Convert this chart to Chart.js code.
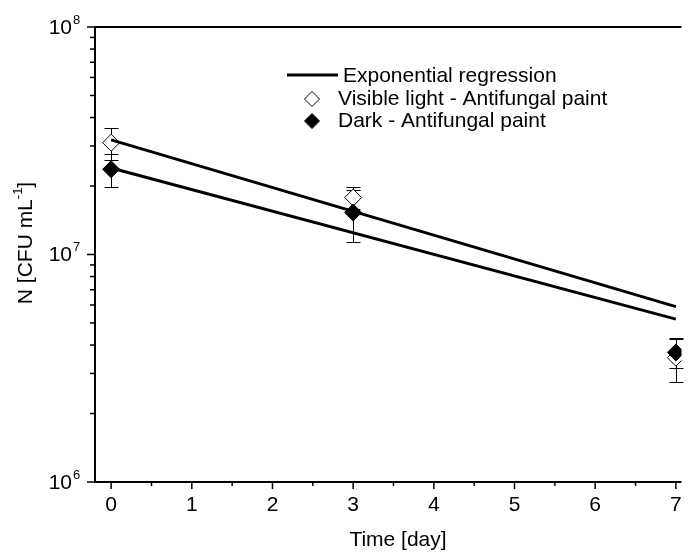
<!DOCTYPE html>
<html>
<head>
<meta charset="utf-8">
<script src="https://cdn.jsdelivr.net/npm/chart.js@4.4.1/dist/chart.umd.min.js"></script>
<style>
  html, body { margin: 0; padding: 0; background: #fff; }
  canvas { display: block; }
</style>
</head>
<body>
<canvas id="chart" width="691" height="552"></canvas>
<script>
// measured points (day, CFU/mL) with error
const days = [0, 3, 7];
const visible = [3.1e7, 1.78e7, 3.52e6];
const visibleErr = [0.5e7, 0.2e7, 0.76e6];
const dark = [2.37e7, 1.53e7, 3.71e6];
const darkErr = [0.39e7, 0.4e7, 0.55e6];

// exponential fits, ends of the lines
const fitDays = [0, 7];
const fitVisible = [3.19e7, 5.9e6];
const fitDark = [2.40e7, 5.2e6];

const xTickLabels = ["0", "1", "2", "3", "4", "5", "6", "7"];
const yDecades = [6, 7, 8];

const FONT = "'Liberation Sans', Arial, sans-serif";

const pts = (xs, ys) => xs.map((x, i) => ({ x, y: ys[i] }));

const errorBars = {
  id: "errorBars",
  beforeDatasetsDraw(chart) {
    const { ctx, scales: { x, y } } = chart;
    ctx.save();
    ctx.strokeStyle = "#000";
    ctx.lineWidth = 1;
    const series = [[visible, visibleErr], [dark, darkErr]];
    series.forEach(([vals, errs]) => {
      days.forEach((d, i) => {
        const px = Math.round(x.getPixelForValue(d)) + 0.5;
        const top = Math.round(y.getPixelForValue(vals[i] + errs[i])) + 0.5;
        const bot = Math.round(y.getPixelForValue(vals[i] - errs[i])) + 0.5;
        ctx.beginPath();
        ctx.moveTo(px, top); ctx.lineTo(px, bot);
        ctx.moveTo(px - 7, top); ctx.lineTo(px + 7, top);
        ctx.moveTo(px - 7, bot); ctx.lineTo(px + 7, bot);
        ctx.stroke();
      });
    });
    ctx.restore();
  }
};

const frame = {
  id: "frame",
  afterDraw(chart) {
    const { ctx, chartArea: a, scales: { x, y } } = chart;
    ctx.save();
    ctx.strokeStyle = "#000";
    ctx.fillStyle = "#000";
    ctx.lineWidth = 2;
    ctx.beginPath();
    ctx.moveTo(a.left, a.top); ctx.lineTo(a.right, a.top);
    ctx.moveTo(a.left, a.top); ctx.lineTo(a.left, a.bottom);
    ctx.lineTo(a.right, a.bottom);
    ctx.stroke();

    // x ticks
    ctx.lineWidth = 1.5;
    for (let v = 0; v <= 7; v += 0.5) {
      const px = x.getPixelForValue(v);
      const len = Number.isInteger(v) ? 7 : 4;
      ctx.beginPath();
      ctx.moveTo(px, a.bottom); ctx.lineTo(px, a.bottom + len);
      ctx.stroke();
    }
    ctx.font = "21px " + FONT;
    ctx.textAlign = "center";
    ctx.textBaseline = "middle";
    xTickLabels.forEach((t, i) => {
      ctx.fillText(t, x.getPixelForValue(i), 505);
    });

    // y ticks
    yDecades.forEach(d => {
      for (let m = 1; m <= 9; m++) {
        if (d === 8 && m > 1) break;
        const py = y.getPixelForValue(m * Math.pow(10, d));
        const len = m === 1 ? 8 : 5;
        ctx.beginPath();
        ctx.moveTo(a.left - len, py); ctx.lineTo(a.left, py);
        ctx.stroke();
      }
      const py = y.getPixelForValue(Math.pow(10, d));
      ctx.font = "21px " + FONT;
      ctx.textAlign = "right";
      ctx.textBaseline = "middle";
      ctx.fillText("10", 72, py + 1);
      ctx.font = "13px " + FONT;
      ctx.textAlign = "left";
      ctx.fillText(String(d), 73, py - 7);
    });

    // axis titles
    ctx.font = "21px " + FONT;
    ctx.textAlign = "center";
    ctx.textBaseline = "middle";
    ctx.fillText("Time [day]", 398, 540);

    ctx.save();
    ctx.translate(26, 243);
    ctx.rotate(-Math.PI / 2);
    const main = "N [CFU mL", sup = "-1", end = "]";
    ctx.font = "21px " + FONT;
    const w1 = ctx.measureText(main).width, w3 = ctx.measureText(end).width;
    ctx.font = "13px " + FONT;
    const w2 = ctx.measureText(sup).width;
    let sx = -(w1 + w2 + w3) / 2;
    ctx.textAlign = "left";
    ctx.font = "21px " + FONT;
    ctx.fillText(main, sx, 0);
    ctx.font = "13px " + FONT;
    ctx.fillText(sup, sx + w1, -8);
    ctx.font = "21px " + FONT;
    ctx.fillText(end, sx + w1 + w2, 0);
    ctx.restore();

    // legend
    ctx.lineWidth = 3;
    ctx.beginPath();
    ctx.moveTo(287, 75); ctx.lineTo(338, 75);
    ctx.stroke();
    ctx.textAlign = "left";
    ctx.font = "21px " + FONT;
    ctx.fillText("Exponential regression", 343, 76);
    const diamond = (cx, cy, r, fill) => {
      ctx.beginPath();
      ctx.moveTo(cx, cy - r); ctx.lineTo(cx + r, cy);
      ctx.lineTo(cx, cy + r); ctx.lineTo(cx - r, cy);
      ctx.closePath();
      ctx.fillStyle = fill;
      ctx.fill();
      ctx.lineWidth = 1;
      ctx.stroke();
    };
    diamond(312, 99, 7.5, "#fff");
    diamond(312, 121, 7.5, "#000");
    ctx.fillStyle = "#000";
    ctx.fillText("Visible light - Antifungal paint", 338, 99);
    ctx.fillText("Dark - Antifungal paint", 338, 121);
    ctx.restore();
  }
};

new Chart(document.getElementById("chart"), {
  type: "scatter",
  data: {
    datasets: [
      {
        label: "Exponential regression",
        type: "line",
        data: pts(fitDays, fitVisible),
        borderColor: "#000",
        borderWidth: 3,
        pointRadius: 0,
        fill: false
      },
      {
        label: "Exponential regression (dark)",
        type: "line",
        data: pts(fitDays, fitDark),
        borderColor: "#000",
        borderWidth: 3,
        pointRadius: 0,
        fill: false
      },
      {
        label: "Dark - Antifungal paint",
        data: pts(days, dark),
        pointStyle: "rectRot",
        pointRadius: 8.5,
        backgroundColor: "#000",
        borderColor: "#000",
        borderWidth: 1
      },
      {
        label: "Visible light - Antifungal paint",
        data: pts(days, visible),
        pointStyle: "rectRot",
        pointRadius: 8.5,
        backgroundColor: "#fff",
        borderColor: "#000",
        borderWidth: 1
      }
    ]
  },
  options: {
    responsive: false,
    devicePixelRatio: 1,
    animation: false,
    layout: { padding: { top: 27, right: 0, left: 0, bottom: 0 } },
    plugins: { legend: { display: false }, tooltip: { enabled: false } },
    scales: {
      x: {
        type: "linear",
        min: -0.2,
        max: 7.07,
        grid: { display: false },
        border: { display: false },
        ticks: { display: false },
        afterFit: s => { s.height = 70; }
      },
      y: {
        type: "logarithmic",
        min: 1e6,
        max: 1e8,
        grid: { display: false },
        border: { display: false },
        ticks: { display: false },
        afterFit: s => { s.width = 95; }
      }
    }
  },
  plugins: [errorBars, frame]
});
</script>
</body>
</html>
